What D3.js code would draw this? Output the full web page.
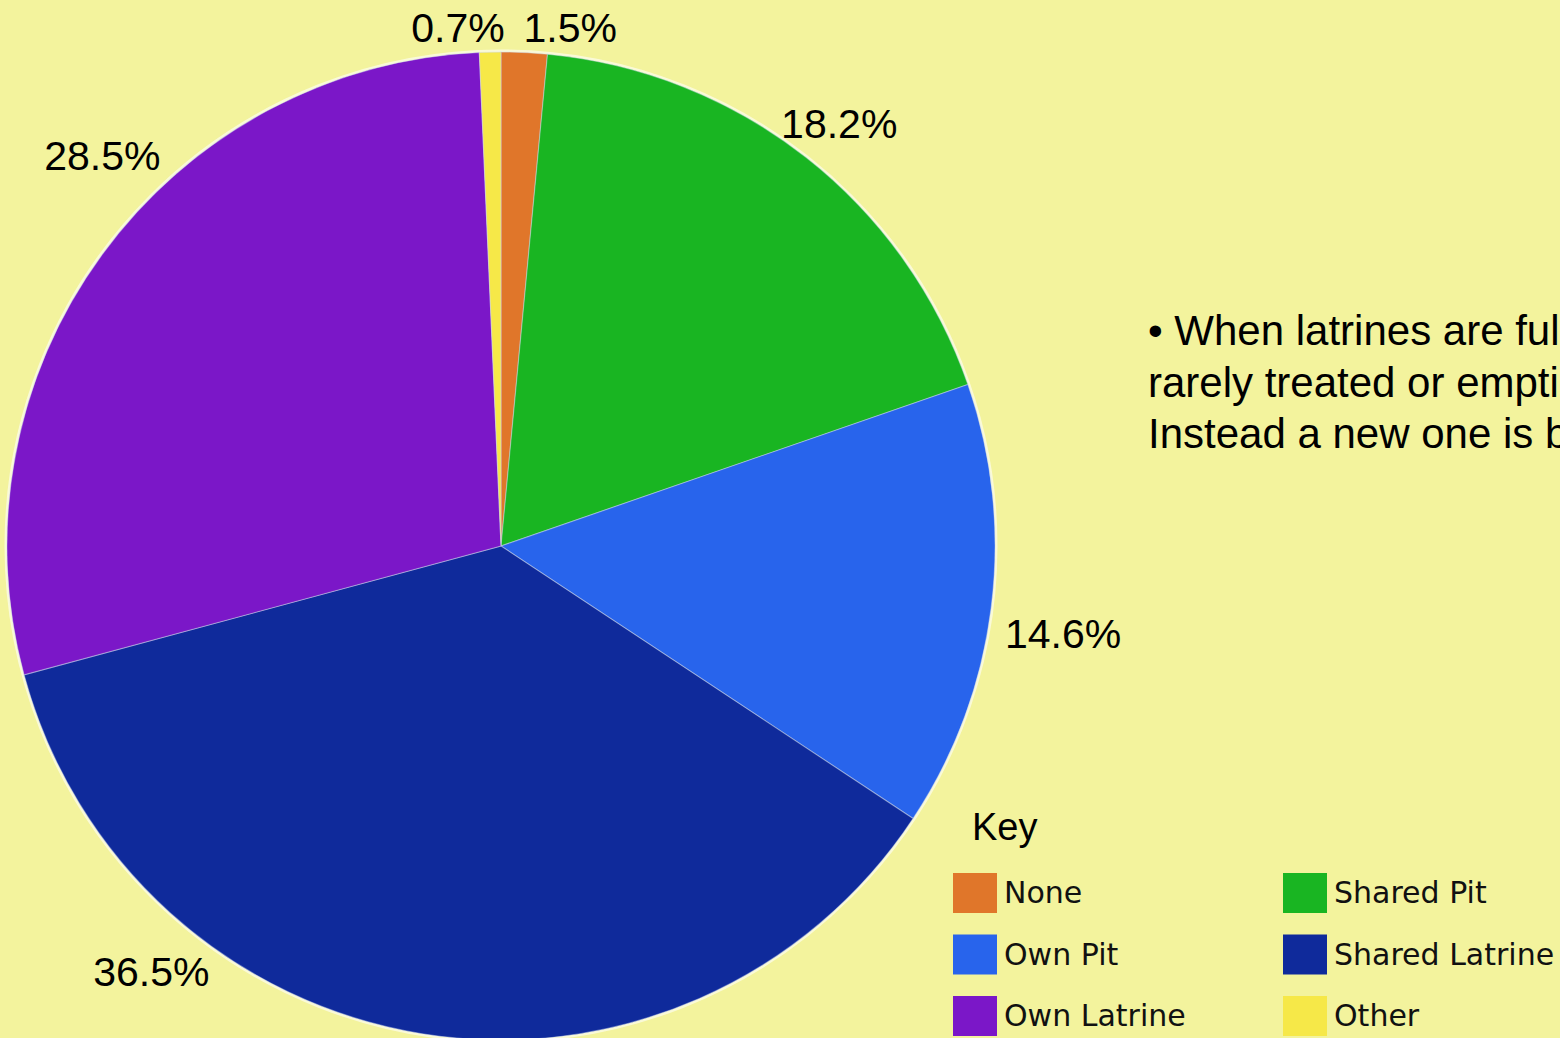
<!DOCTYPE html>
<html>
<head>
<meta charset="utf-8">
<script src="https://cdn.jsdelivr.net/npm/d3@7"></script>
<style>
  html, body { margin: 0; padding: 0; background: #f3f39d; overflow: hidden; }
  svg { display: block; }
</style>
</head>
<body>
<svg id="chart" width="1560" height="1038"></svg>
<script>
// Sanitation categories, clockwise from 12 o'clock
const categories = ["None", "Shared Pit", "Own Pit", "Shared Latrine", "Own Latrine", "Other"];
const shares = [1.5, 18.2, 14.6, 36.5, 28.5, 0.7];
const colors = ["#e0762a", "#19b522", "#2864ec", "#0f2a9b", "#7b17c8", "#f6e848"];

// Legend is laid out in two columns, reading order left then right
const legendOrder = ["None", "Shared Pit", "Own Pit", "Shared Latrine", "Own Latrine", "Other"];

// Side note
const noteLines = [
  "\u2022 When latrines are full they are",
  "rarely treated or emptied.",
  "Instead a new one is built."
];

// Where each percentage label sits: polar [angle in degrees clockwise from top, distance from centre]
const labelPolar = {
  "None": [7.6, 523],
  "Shared Pit": [38.7, 541],
  "Own Pit": [98.9, 569],
  "Shared Latrine": [219.4, 551],
  "Own Latrine": [314.4, 558],
  "Other": [-4.75, 520]
};

const svg = d3.select("#chart");
const cx = 501, cy = 546, radius = 494;

const color = d3.scaleOrdinal().domain(categories).range(colors);

const pie = d3.pie()
  .sort(null)
  .value(d => d.value)
  .startAngle(0)
  .endAngle(2 * Math.PI);

const data = categories.map((c, i) => ({ name: c, value: shares[i] }));
const arcs = pie(data);
const arc = d3.arc().innerRadius(0).outerRadius(radius);

const g = svg.append("g").attr("transform", `translate(${cx},${cy})`);

// soft pale rim around the disc
g.append("circle")
  .attr("r", radius + 1)
  .attr("fill", "none")
  .attr("stroke", "#fbfbe6")
  .attr("stroke-width", 3)
  .attr("opacity", 0.8);

g.selectAll("path.slice")
  .data(arcs)
  .join("path")
  .attr("class", "slice")
  .attr("d", arc)
  .attr("fill", d => color(d.data.name))
  .attr("stroke", "#cfd9f5")
  .attr("stroke-opacity", 0.45)
  .attr("stroke-width", 1.1);

// Percentage labels
g.selectAll("text.pct")
  .data(arcs)
  .join("text")
  .attr("class", "pct")
  .attr("x", d => {
    const [a, r] = labelPolar[d.data.name];
    return r * Math.sin(a * Math.PI / 180);
  })
  .attr("y", d => {
    const [a, r] = labelPolar[d.data.name];
    return -r * Math.cos(a * Math.PI / 180);
  })
  .attr("dy", "0.35em")
  .attr("text-anchor", "middle")
  .attr("font-family", "'Liberation Sans', Arial, sans-serif")
  .attr("font-size", 41)
  .attr("fill", "#000")
  .text(d => d3.format(".1f")(d.data.value) + "%");

// Side note text (runs past the right edge of the slide)
const note = svg.append("text")
  .attr("x", 1148)
  .attr("y", 345)
  .attr("font-family", "'Liberation Sans', Arial, sans-serif")
  .attr("font-size", 42)
  .attr("fill", "#000");
note.selectAll("tspan")
  .data(noteLines)
  .join("tspan")
  .attr("x", 1148)
  .attr("dy", (d, i) => i === 0 ? 0 : 51.5)
  .text(d => d);

// Legend
svg.append("text")
  .attr("x", 972)
  .attr("y", 840)
  .attr("font-family", "'Liberation Sans', Arial, sans-serif")
  .attr("font-size", 38)
  .attr("fill", "#000")
  .text("Key");

const colX = [953, 1283];
const rowY = [873, 934.5, 996];
const legend = svg.append("g");
const items = legend.selectAll("g.item")
  .data(legendOrder)
  .join("g")
  .attr("class", "item")
  .attr("transform", (d, i) => `translate(${colX[i % 2]},${rowY[Math.floor(i / 2)]})`);

items.append("rect")
  .attr("width", 44)
  .attr("height", 40)
  .attr("fill", d => color(d));

items.append("text")
  .attr("x", 51)
  .attr("y", 30)
  .attr("font-family", "'DejaVu Sans', Verdana, sans-serif")
  .attr("font-size", 30)
  .attr("fill", "#111")
  .text(d => d);
</script>
</body>
</html>
